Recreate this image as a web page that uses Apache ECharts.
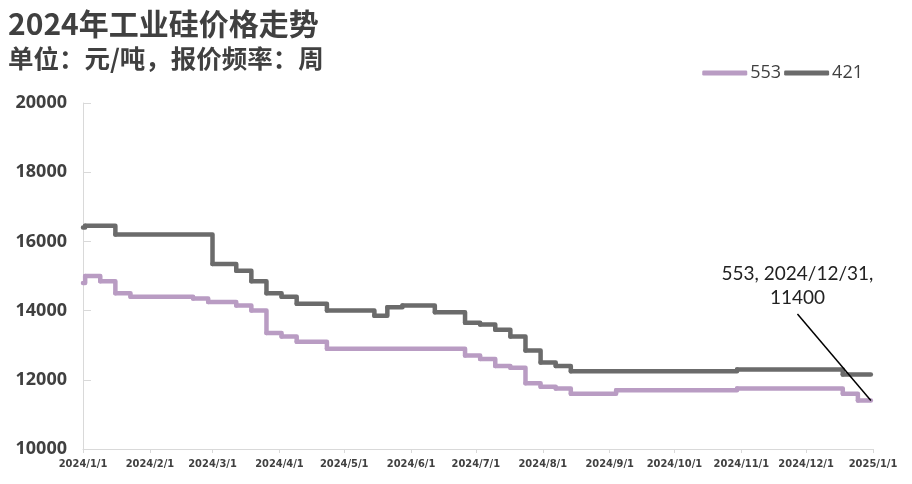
<!DOCTYPE html>
<html><head><meta charset="utf-8">
<script src="https://cdn.jsdelivr.net/npm/echarts@6/dist/echarts.min.js"></script>
<style>html,body{margin:0;padding:0;background:#fff}#c{width:912px;height:484px}</style>
</head><body><div id="c"></div>
<script>
const titleText = '2024年工业硅价格走势';
const subText = '单位：元/吨，报价频率：周';
const seriesNames = ['553', '421'];
const yTicks = [10000, 12000, 14000, 16000, 18000, 20000];

const dates553 = ['2024-01-01','2024-01-02','2024-01-09','2024-01-16','2024-01-23','2024-02-21','2024-02-28','2024-03-12','2024-03-19','2024-03-26','2024-04-02','2024-04-09','2024-04-23','2024-06-26','2024-07-03','2024-07-10','2024-07-17','2024-07-24','2024-07-31','2024-08-07','2024-08-14','2024-09-04','2024-10-30','2024-12-18','2024-12-25','2024-12-31'];
const vals553  = [14800,15000,14850,14500,14400,14350,14250,14150,14000,13350,13250,13100,12900,12700,12600,12400,12350,11900,11800,11750,11600,11700,11750,11600,11400,11400];

const dates421 = ['2024-01-01','2024-01-02','2024-01-16','2024-03-01','2024-03-12','2024-03-19','2024-03-26','2024-04-02','2024-04-09','2024-04-23','2024-05-15','2024-05-21','2024-05-28','2024-06-12','2024-06-26','2024-07-03','2024-07-10','2024-07-17','2024-07-24','2024-07-31','2024-08-07','2024-08-14','2024-10-30','2024-12-18','2024-12-31'];
const vals421  = [16400,16450,16200,15350,15150,14850,14500,14400,14200,14000,13850,14100,14150,13950,13650,13600,13450,13250,12850,12500,12400,12250,12300,12150,12150];

const annoDate = '2024-12-31', annoValue = 11400;
const annoFrom = ['2024-11-27', 13900];
const annoText = '553, 2024/12/31,\n11400';

const colors = {'553': '#B99CC3', '421': '#6B6B6B'};

function pairs(d, v) { return d.map((x, i) => [x, v[i]]); }

// step rendering: each item draws its horizontal run to the next date, then the vertical jump
function stepRenderer(dates, vals, color) {
  return function (params, api) {
    const i = params.dataIndex;
    const p0 = api.coord([api.value(0), api.value(1)]);
    const pts = [p0];
    if (i < dates.length - 1) {
      const nextX = +echarts.time.parse(dates[i + 1]);
      pts.push(api.coord([nextX, vals[i]]));
      pts.push(api.coord([nextX, vals[i + 1]]));
    }
    return {
      type: 'polyline',
      shape: {points: pts},
      style: {stroke: color, lineWidth: 4.5, fill: null, lineCap: 'round', lineJoin: 'round'}
    };
  };
}

function stepSeries(name, dates, vals) {
  return {
    name: name, type: 'custom', data: pairs(dates, vals),
    encode: {x: 0, y: 1},
    itemStyle: {color: colors[name]},
    renderItem: stepRenderer(dates, vals, colors[name])
  };
}

const chart = echarts.init(document.getElementById('c'));
chart.setOption({
  animation: false,
  title: [
    {text: titleText, left: 3, top: 4, textStyle: {fontSize: 30, fontWeight: 'bold', color: '#404040', fontFamily: "'Noto Sans CJK SC', sans-serif"}},
    {text: subText, left: 3, top: 41, textStyle: {fontSize: 25.5, fontWeight: 'bold', color: '#404040', fontFamily: "'Noto Sans CJK SC', sans-serif"}}
  ],
  legend: {
    data: seriesNames, right: 44, top: 59, itemWidth: 45, itemHeight: 5, itemGap: 3,
    icon: 'roundRect',
    textStyle: {fontSize: 18, color: '#404040', fontFamily: "'Open Sans', sans-serif", padding: [0,0,0,-2]}
  },
  grid: {left: 83, right: 39, top: 103, bottom: 35},
  xAxis: {
    type: 'time', min: '2024-01-01', max: '2025-01-01', splitNumber: 12,
    axisLine: {lineStyle: {color: '#d9d9d9', width: 1}},
    axisTick: {show: true, length: 4, lineStyle: {color: '#d9d9d9'}},
    splitLine: {show: false},
    axisLabel: {formatter: '{yyyy}/{M}/{d}', fontSize: 11, color: '#404040', fontWeight: 'bold', margin: 10,
      fontFamily: "'Liberation Sans Narrow', 'DejaVu Sans Condensed', sans-serif", showMinLabel: true, showMaxLabel: true}
  },
  yAxis: {
    type: 'value', min: yTicks[0], max: yTicks[yTicks.length-1], interval: 2000,
    axisLine: {show: true, lineStyle: {color: '#d9d9d9'}},
    axisTick: {show: true, inside: true, length: 8, lineStyle: {color: '#d9d9d9'}},
    splitLine: {show: false},
    axisLabel: {fontSize: 18, fontWeight: 'bold', color: '#404040', margin: 16, fontFamily: "'Open Sans', sans-serif",
      formatter: v => String(v)}
  },
  series: [
    stepSeries(seriesNames[0], dates553, vals553),
    stepSeries(seriesNames[1], dates421, vals421),
    {name: 'anno', type: 'line', data: [], symbol: 'none', z: 5,
     markLine: {silent: true, symbol: ['none','none'], animation: false,
       lineStyle: {color: '#000', width: 1.5, type: 'solid'},
       label: {show: false},
       data: [[{coord: annoFrom}, {coord: [annoDate, annoValue]}]]},
     markPoint: {silent: true, symbol: 'circle', symbolSize: 1, itemStyle: {color: 'rgba(0,0,0,0)'},
       label: {show: true, position: 'top', distance: 4, formatter: annoText, fontSize: 19, lineHeight: 24, color: '#222', align: 'center', fontFamily: "Lato, 'Open Sans', sans-serif"},
       data: [{coord: annoFrom}]}
    }
  ]
});
</script></body></html>
